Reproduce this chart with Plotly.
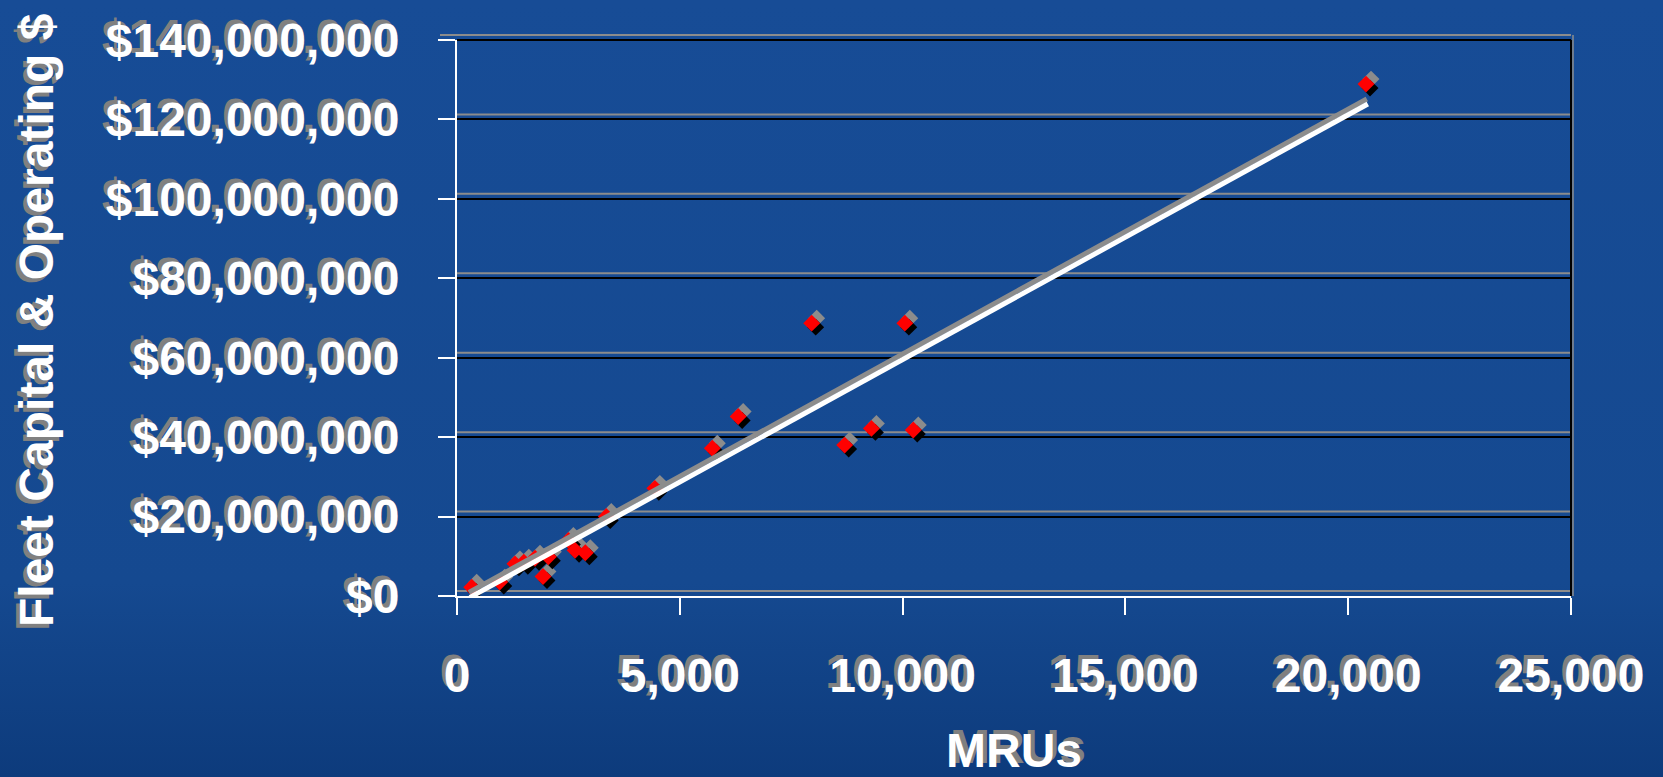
import base64
import numpy as np
import plotly.graph_objects as go

# ---- data ----
mrus = [330, 960, 1300, 1500, 1750, 1930, 2050, 2500, 2650, 2880,
        3350, 4440, 5730, 6310, 7960, 8700, 9300, 10050, 10240, 20400]
cost_musd = [2.2, 3.5, 8.1, 8.5, 9.5, 4.9, 9.9, 14.0, 11.5, 10.9,
             20.0, 27.1, 37.2, 45.2, 68.7, 38.0, 42.2, 68.7, 41.8, 128.9]
cost = [v * 1e6 for v in cost_musd]

x_ticks = [0, 5000, 10000, 15000, 20000, 25000]
x_ticktext = ["0", "5,000", "10,000", "15,000", "20,000", "25,000"]
y_ticks = [0, 20e6, 40e6, 60e6, 80e6, 100e6, 120e6, 140e6]
y_ticktext = ["$0", "$20,000,000", "$40,000,000", "$60,000,000",
              "$80,000,000", "$100,000,000", "$120,000,000", "$140,000,000"]

X_RANGE = [0, 25000]
Y_RANGE = [0, 140e6]

# ---- layout geometry ----
W, H = 1663, 777
ML, MR, MT, MB = 457, 92, 40, 181
PW, PH = W - ML - MR, H - MT - MB
ux = (X_RANGE[1] - X_RANGE[0]) / PW   # data units per pixel
uy = (Y_RANGE[1] - Y_RANGE[0]) / PH

# linear trend (least squares) over data span
slope, icpt = np.polyfit(mrus, cost, 1)
tx = [min(mrus) - 40, max(mrus) + 40]
ty = [slope * v + icpt for v in tx]

FONT = "Liberation Sans, Arial, sans-serif"
SH_LU = "-4px -4px 0px #808080"

fig = go.Figure()

xs = np.array(mrus, dtype=float)
ys = np.array(cost, dtype=float)
MS = 13
# marker shadows (gray up-right, black down-right), then red diamonds
fig.add_trace(go.Scatter(x=xs + 5 * ux, y=ys + 5 * uy, mode="markers",
                         marker=dict(symbol="diamond", size=MS, color="#8c8c8c"),
                         hoverinfo="skip", showlegend=False))
fig.add_trace(go.Scatter(x=xs + 4 * ux, y=ys - 4 * uy, mode="markers",
                         marker=dict(symbol="diamond", size=MS, color="#000000"),
                         hoverinfo="skip", showlegend=False))
fig.add_trace(go.Scatter(x=mrus, y=cost, mode="markers", name="Fleet cost",
                         marker=dict(symbol="diamond", size=MS, color="#ff0000"),
                         showlegend=False))
# trend line shadow + trend line
fig.add_trace(go.Scatter(x=[v - 1 * ux for v in tx], y=[v + 5 * uy for v in ty],
                         mode="lines", line=dict(color="#8c8c8c", width=5),
                         hoverinfo="skip", showlegend=False))
fig.add_trace(go.Scatter(x=tx, y=ty, mode="lines", name="Linear trend",
                         line=dict(color="#ffffff", width=5), showlegend=False))

shapes = []
# gray "shadow" lines just above every gridline (inside the plot)
for yv in y_ticks[:-1]:
    shapes.append(dict(type="line", xref="x", yref="y", x0=X_RANGE[0], x1=X_RANGE[1],
                       ysizemode="pixel", yanchor=yv, y0=5, y1=5,
                       line=dict(color="#8c8c8c", width=2), layer="below"))
# top border: gray shadow + black line
shapes.append(dict(type="line", xref="paper", yref="paper", x0=-17 / PW, x1=1,
                   ysizemode="pixel", yanchor=1, y0=5, y1=5,
                   line=dict(color="#8c8c8c", width=2)))
shapes.append(dict(type="line", xref="paper", yref="paper", x0=0, x1=1, y0=1, y1=1,
                   line=dict(color="#000000", width=2)))
# right border (black) with gray edge
shapes.append(dict(type="line", xref="paper", yref="paper", x0=1, x1=1,
                   y0=0, y1=1, line=dict(color="#000000", width=2)))
shapes.append(dict(type="line", xref="paper", yref="paper", xsizemode="pixel", xanchor=1,
                   x0=2, x1=2, y0=0, y1=1 + 5 / PH,
                   line=dict(color="#8c8c8c", width=1.5)))

# background gradient image
svg = ('<svg xmlns="http://www.w3.org/2000/svg" width="100" height="100" preserveAspectRatio="none">'
       '<defs><linearGradient id="g" x1="0" y1="0" x2="0" y2="1">'
       '<stop offset="0" stop-color="#174c96"/>'
       '<stop offset="0.75" stop-color="#154990"/>'
       '<stop offset="1" stop-color="#0d3b7c"/>'
       '</linearGradient></defs><rect width="100" height="100" fill="url(#g)"/></svg>')
src = "data:image/svg+xml;base64," + base64.b64encode(svg.encode()).decode()

fig.update_layout(
    width=W, height=H,
    margin=dict(l=ML, r=MR, t=MT, b=MB, pad=0),
    paper_bgcolor="#154990",
    plot_bgcolor="rgba(0,0,0,0)",
    shapes=shapes,
    images=[dict(source=src, xref="paper", yref="paper",
                 x=-ML / PW, y=1 + MT / PH, sizex=W / PW, sizey=H / PH,
                 xanchor="left", yanchor="top", sizing="stretch", layer="below")],
    font=dict(family=FONT, color="white"),
    xaxis=dict(range=X_RANGE, tickvals=x_ticks, ticktext=x_ticktext,
               showgrid=False, zeroline=False,
               showline=True, linecolor="white", linewidth=2,
               ticks="outside", ticklen=17, tickwidth=2, tickcolor="white",
               ticklabelstandoff=19,
               tickfont=dict(family=FONT, size=48, color="white", weight="bold",
                             shadow=SH_LU)),
    yaxis=dict(range=Y_RANGE, tickvals=y_ticks, ticktext=y_ticktext,
               showgrid=True, gridcolor="#000000", gridwidth=2, zeroline=False,
               showline=True, linecolor="white", linewidth=2,
               ticks="outside", ticklen=17, tickwidth=2, tickcolor="white",
               ticklabelstandoff=29,
               tickfont=dict(family=FONT, size=48, color="white", weight="bold",
                             shadow=SH_LU)),
    annotations=[
        dict(text="MRUs", xref="paper", yref="paper", x=0.5, y=0,
             xanchor="center", yanchor="middle", yshift=-(750 - (H - MB)),
             showarrow=False,
             font=dict(family=FONT, size=48, color="white", weight="bold",
                       shadow="4px -4px 0px #808080")),
        dict(text="Fleet Capital & Operating $", xref="paper", yref="paper",
             x=0, y=0.5, xanchor="center", yanchor="middle", xshift=36 - ML,
             yshift=-2, textangle=-90, showarrow=False,
             font=dict(family=FONT, size=48, color="white", weight="bold",
                       shadow="-4px -4px 0px #808080")),
    ],
)

fig.write_html("out.html", config={"displayModeBar": False},
               post_script="document.body.style.margin='0';")
